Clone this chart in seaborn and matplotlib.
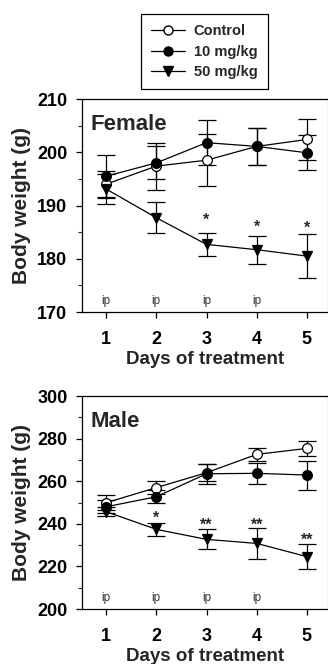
import matplotlib
matplotlib.use("Agg")
import matplotlib.pyplot as plt
import seaborn as sns
import numpy as np
import pandas as pd
from matplotlib.lines import Line2D
from matplotlib.ticker import MultipleLocator

sns.set_theme(style="ticks")
plt.rcParams['font.family'] = ['Liberation Sans', 'DejaVu Sans']

days = [1, 2, 3, 4, 5]
groups = ["Control", "10 mg/kg", "50 mg/kg"]

# Female
f_control = [194.0, 197.4, 198.5, 201.1, 202.4]
f_control_err = [2.5, 4.4, 4.9, 3.5, 3.9]
f_10 = [195.5, 198.0, 201.8, 201.1, 199.9]
f_10_err = [3.9, 3.1, 4.2, 3.5, 3.3]
f_50 = [193.1, 187.7, 182.7, 181.7, 180.5]
f_50_err = [2.9, 2.9, 2.2, 2.6, 4.1]
f_star_days = [3, 4, 5]
f_star_y = [187.3, 186.0, 185.8]
f_star_txt = ["*", "*", "*"]

# Male
m_control = [249.9, 257.0, 264.0, 272.6, 275.4]
m_control_err = [3.5, 3.0, 4.0, 3.2, 3.5]
m_10 = [248.0, 252.7, 263.5, 263.7, 262.9]
m_10_err = [3.0, 3.0, 4.6, 5.0, 6.8]
m_50 = [245.7, 237.4, 232.7, 230.8, 224.6]
m_50_err = [2.2, 3.2, 4.7, 7.2, 5.7]
m_star_days = [2, 3, 4, 5]
m_star_y = [242.5, 239.5, 239.5, 232.5]
m_star_txt = ["*", "**", "**", "**"]

ip_days = [1, 2, 3, 4]

fig = plt.figure(figsize=(3.28, 6.64), dpi=100)
ax1 = fig.add_axes([0.25, 0.5301, 0.75, 0.3208])
ax2 = fig.add_axes([0.25, 0.0828, 0.75, 0.3208])

styles = {
    "Control": dict(marker="o", mfc="white"),
    "10 mg/kg": dict(marker="o", mfc="black"),
    "50 mg/kg": dict(marker="v", mfc="black"),
}

def panel(ax, vals, errs, ylim, major, minor, title, star_days, star_y, star_txt, ip_y, ylabel):
    for g, v, e in zip(groups, vals, errs):
        ax.errorbar(days, v, yerr=e, fmt="none", ecolor="black", elinewidth=0.9,
                    capsize=6.5, capthick=0.9, zorder=2)
    for g, v in zip(groups, vals):
        df = pd.DataFrame({"day": days, "w": v})
        st = styles[g]
        sns.lineplot(data=df, x="day", y="w", ax=ax, color="black", linewidth=0.9,
                     marker=st["marker"], markersize=7.5 if st["marker"] == "v" else 7,
                     markerfacecolor=st["mfc"], markeredgecolor="black",
                     markeredgewidth=0.9, zorder=3)
    for d, y, t in zip(star_days, star_y, star_txt):
        ax.text(d, y, t, ha="center", va="center", fontsize=11.5, fontweight="bold")
    for d in ip_days:
        ax.text(d, ip_y, "ip", ha="center", va="center", fontsize=8.5, color="#333333")
    ax.set_xlim(0.52, 5.42)
    ax.set_ylim(*ylim)
    ax.set_xticks(days)
    ax.set_xticklabels([str(d) for d in days])
    ax.yaxis.set_major_locator(MultipleLocator(major))
    ax.yaxis.set_minor_locator(MultipleLocator(minor))
    ax.tick_params(axis="both", which="major", direction="out", length=4.5, width=0.9,
                   labelsize=13, colors="black")
    ax.tick_params(axis="y", which="major", pad=6)
    ax.tick_params(axis="x", which="major", pad=9)
    ax.tick_params(axis="y", which="minor", direction="out", length=3, width=0.8)
    for lab in ax.get_xticklabels() + ax.get_yticklabels():
        lab.set_fontweight("bold")
    for s in ax.spines.values():
        s.set_color("black")
        s.set_linewidth(0.9)
    ax.spines["right"].set_color("#999999")
    ax.set_xlabel("Days of treatment", fontsize=13.5, fontweight="bold")
    ax.xaxis.label.set_va("center")
    ax.xaxis.set_label_coords(0.5, -0.225)
    ax.set_ylabel(ylabel, fontsize=15, fontweight="bold")
    ax.yaxis.label.set_va("center")
    ax.yaxis.set_label_coords(-0.245, 0.5)
    ax.text(0.035, 0.93, title, transform=ax.transAxes, ha="left", va="top",
            fontsize=16, fontweight="bold")
    ax.grid(False)
    ax.set_facecolor("white")

panel(ax1, [f_control, f_10, f_50], [f_control_err, f_10_err, f_50_err], (170, 210), 10, 5,
      "Female", f_star_days, f_star_y, f_star_txt, 172, "Body weight (g)")
panel(ax2, [m_control, m_10, m_50], [m_control_err, m_10_err, m_50_err], (200, 300), 20, 10,
      "Male", m_star_days, m_star_y, m_star_txt, 205, "Body weight (g)")

handles = [
    Line2D([], [], color="black", lw=0.9, marker="o", mfc="white", mec="black", ms=6.5),
    Line2D([], [], color="black", lw=0.9, marker="o", mfc="black", mec="black", ms=6.5),
    Line2D([], [], color="black", lw=0.9, marker="v", mfc="black", mec="black", ms=7),
]
leg = fig.legend(handles, groups, loc="upper center", bbox_to_anchor=(0.6235, 0.979),
                 frameon=True, fancybox=False, framealpha=1, edgecolor="black",
                 prop={"weight": "bold", "size": 10.5}, handlelength=2.3,
                 handletextpad=0.6, labelspacing=0.45, borderpad=0.7,
                 borderaxespad=0)
leg.get_frame().set_linewidth(0.9)

fig.savefig("out.png", dpi=100, facecolor="white")
